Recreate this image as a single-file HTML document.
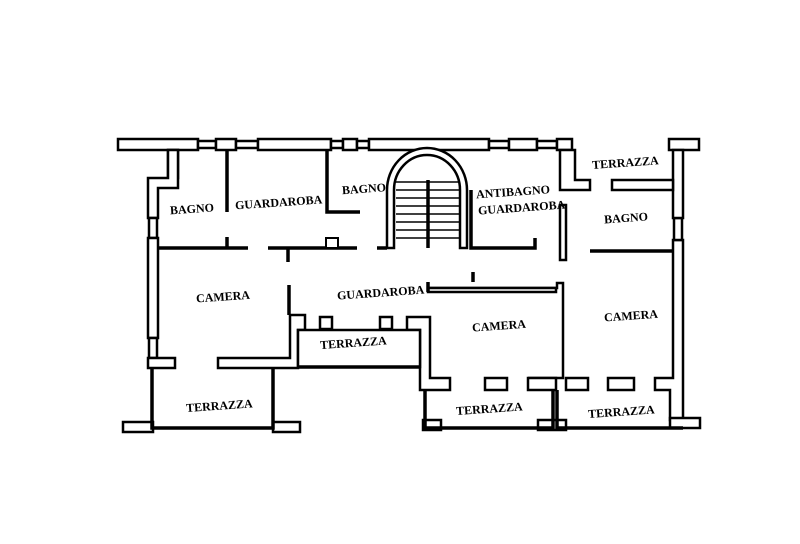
<!DOCTYPE html>
<html><head><style>
html,body{margin:0;padding:0;background:#fff;}
svg{display:block}
text{font-family:"Liberation Serif",serif;font-weight:bold;font-size:12px;fill:#000;}
</style></head><body>
<svg width="800" height="544" viewBox="0 0 800 544" xmlns="http://www.w3.org/2000/svg">
<rect width="800" height="544" fill="#fff"/>
<g fill="#fff" stroke="#000" stroke-width="2.5">
<rect x="118" y="139" width="80" height="11"/>
<rect x="198" y="141" width="18" height="7"/>
<rect x="216" y="139" width="20" height="11"/>
<rect x="236" y="141" width="22" height="7"/>
<rect x="258" y="139" width="73" height="11"/>
<rect x="331" y="141" width="12" height="7"/>
<rect x="343" y="139" width="14" height="11"/>
<rect x="357" y="141" width="12" height="7"/>
<rect x="369" y="139" width="120" height="11"/>
<rect x="489" y="141" width="20" height="7"/>
<rect x="509" y="139" width="28" height="11"/>
<rect x="537" y="141" width="20" height="7"/>
<rect x="557" y="139" width="15" height="11"/>
<rect x="669" y="139" width="30" height="11"/>
<rect x="168" y="150" width="10" height="28"/>
<path d="M148 178 H168 V150 H178 V188 H158 V218 H148 Z"/>
<rect x="149" y="218" width="8" height="20"/>
<rect x="148" y="238" width="10" height="100"/>
<rect x="149" y="338" width="8" height="20"/>
<path d="M148 358 H175 V368 H148 Z"/>
<path d="M218 358 H290 V315 H305 V330 H298 V368 H218 Z"/>
<rect x="320" y="317" width="12" height="12"/>
<rect x="380" y="317" width="12" height="12"/>
<path d="M407 317 H430 V378 H450 V390 H420 V330 H407 Z"/>
<rect x="485" y="378" width="22" height="12"/>
<path d="M528 378 H563 V283 H557 V288 H430 V290"/>
<path d="M528 378 H556 V390 H528 Z"/>
<path d="M566 378 H588 V390 H566 Z"/>
<rect x="608" y="378" width="26" height="12"/>
<path d="M655 378 H673 V240 H683 V420 H670 V390 H655 Z"/>
<rect x="674" y="218" width="8" height="22"/>
<rect x="673" y="150" width="10" height="68"/>
<rect x="123" y="422" width="30" height="10"/>
<rect x="273" y="422" width="27" height="10"/>
<rect x="423" y="420" width="18" height="10"/>
<rect x="538" y="420" width="28" height="10"/>
<rect x="670" y="418" width="30" height="10"/>
<path d="M560 150 H575 V180 H590 V190 H560 Z"/>
<path d="M612 180 H673 V190 H612 Z"/>
<path d="M387 248 V190 A40 42 0 0 1 467 190 V248 H460 V190 A33 35 0 0 0 394 190 V248 Z"/>
<rect x="298" y="330" width="122" height="37"/>
<rect x="428" y="288" width="128" height="4"/>
<rect x="560" y="205" width="6" height="55"/>
</g>
<g stroke="#000" stroke-width="3.5" fill="none">
<path d="M227 150 V212"/>
<path d="M227 237 V248"/>
<path d="M159 248 H248"/>
<path d="M268 248 H357"/>
<path d="M377 248 H387"/>
<path d="M288 248 V262"/>
<path d="M289 285 V315"/>
<path d="M327 150 V212 H360"/>
<path d="M471 190 V248 H535 V238"/>
<path d="M590 251 H672"/>
<path d="M473 272 V282"/>
<path d="M428 292 V282"/>
<path d="M152 368 V428 H273 V368"/>
<path d="M298 367 H420"/>
<path d="M425 390 V428 H553 V390"/>
<path d="M557 390 V428 H683"/>
<path d="M428 180 V248"/>
</g>
<rect x="326" y="238" width="12" height="10" fill="#fff" stroke="#000" stroke-width="2"/>
<g stroke="#000" stroke-width="1.5">
<line x1="396" y1="182" x2="459" y2="182"/>
<line x1="396" y1="190" x2="459" y2="190"/>
<line x1="396" y1="198" x2="459" y2="198"/>
<line x1="396" y1="206" x2="459" y2="206"/>
<line x1="396" y1="214" x2="459" y2="214"/>
<line x1="396" y1="222" x2="459" y2="222"/>
<line x1="396" y1="230" x2="459" y2="230"/>
<line x1="396" y1="238" x2="459" y2="238"/>
</g>
<text x="170" y="213" transform="rotate(-4 190 210)">BAGNO</text>
<text x="235" y="207" transform="rotate(-4 270 203)">GUARDAROBA</text>
<text x="342" y="193" transform="rotate(-4 360 190)">BAGNO</text>
<text x="476" y="196" transform="rotate(-4 510 192)">ANTIBAGNO</text>
<text x="478" y="212" transform="rotate(-4 515 208)">GUARDAROBA</text>
<text x="592" y="167" transform="rotate(-4 620 163)">TERRAZZA</text>
<text x="604" y="222" transform="rotate(-4 625 218)">BAGNO</text>
<text x="196" y="301" transform="rotate(-4 218 297)">CAMERA</text>
<text x="337" y="297" transform="rotate(-4 375 293)">GUARDAROBA</text>
<text x="472" y="330" transform="rotate(-4 495 326)">CAMERA</text>
<text x="604" y="320" transform="rotate(-4 626 316)">CAMERA</text>
<text x="320" y="347" transform="rotate(-4 350 343)">TERRAZZA</text>
<text x="186" y="410" transform="rotate(-4 215 406)">TERRAZZA</text>
<text x="456" y="413" transform="rotate(-4 485 409)">TERRAZZA</text>
<text x="588" y="416" transform="rotate(-4 617 412)">TERRAZZA</text>
</svg>
</body></html>
